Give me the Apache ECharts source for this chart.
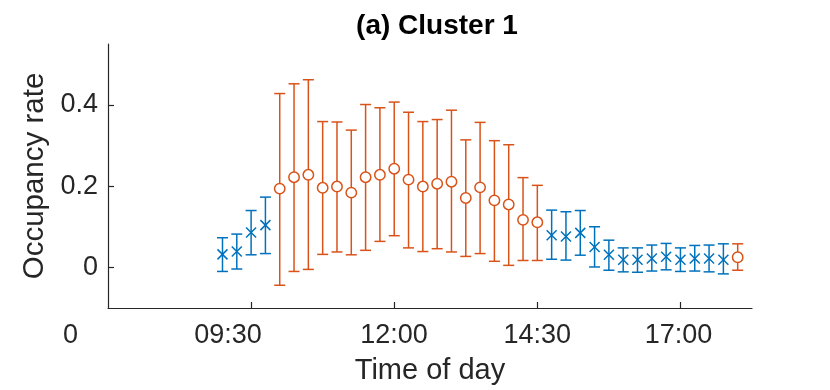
<!DOCTYPE html>
<html>
<head>
<meta charset="utf-8">
<title>(a) Cluster 1</title>
<script src="https://cdn.jsdelivr.net/npm/echarts@6/dist/echarts.min.js"></script>
<style>
    html, body { margin: 0; padding: 0; background: #fff; }
    #chart { width: 830px; height: 390px; }
</style>
</head>
<body>
<div id="chart"></div>
<script>
// 15-minute slots
var timeSlots = ['09:00', '09:15', '09:30', '09:45', '10:00', '10:15', '10:30', '10:45',
    '11:00', '11:15', '11:30', '11:45', '12:00', '12:15', '12:30', '12:45',
    '13:00', '13:15', '13:30', '13:45', '14:00', '14:15', '14:30', '14:45',
    '15:00', '15:15', '15:30', '15:45', '16:00', '16:15', '16:30', '16:45',
    '17:00', '17:15', '17:30', '17:45', '18:00'];

// 1 = slot belongs to the cluster (orange circles), 0 = outside (blue crosses)
var inCluster = [0, 0, 0, 0, 1, 1, 1, 1, 1, 1, 1, 1, 1, 1, 1, 1, 1, 1, 1, 1, 1, 1, 1,
    0, 0, 0, 0, 0, 0, 0, 0, 0, 0, 0, 0, 0, 1];

var meanRate = [0.032, 0.039, 0.086, 0.104, 0.194, 0.222, 0.228, 0.196, 0.199, 0.184,
    0.222, 0.228, 0.243, 0.216, 0.199, 0.206, 0.211, 0.171, 0.197, 0.165, 0.155, 0.117,
    0.111, 0.079, 0.076, 0.085, 0.050, 0.031, 0.019, 0.019, 0.022, 0.026, 0.019, 0.022,
    0.022, 0.019, 0.025];

var upperRate = [0.073, 0.082, 0.140, 0.173, 0.428, 0.452, 0.462, 0.359, 0.358, 0.338,
    0.401, 0.393, 0.407, 0.382, 0.359, 0.364, 0.387, 0.314, 0.357, 0.312, 0.302, 0.221,
    0.202, 0.141, 0.137, 0.140, 0.100, 0.067, 0.048, 0.048, 0.055, 0.059, 0.048, 0.054,
    0.055, 0.058, 0.058];

var lowerRate = [-0.010, -0.004, 0.031, 0.034, -0.044, -0.010, -0.005, 0.032, 0.038, 0.031,
    0.042, 0.064, 0.078, 0.048, 0.039, 0.046, 0.038, 0.027, 0.034, 0.015, 0.005, 0.017,
    0.017, 0.020, 0.018, 0.030, 0.001, -0.007, -0.011, -0.012, -0.009, -0.006, -0.010,
    -0.009, -0.011, -0.016, -0.007];

// axis ticks / labels
var xTicks = ['09:30', '12:00', '14:30', '17:00'];
var xTickLabels = ['0', '09:30', '12:00', '14:30', '17:00'];
var yTicks = [0, 0.2, 0.4];

(function () {
    var blue = '#0072BD';
    var orange = '#D95319';
    var axisColor = '#262626';
    var font = '"Liberation Sans", Arial, Helvetica, sans-serif';

    function toMin(s) {
        var p = s.split(':');
        return (+p[0]) * 60 + (+p[1]);
    }

    // where the tick labels sit (minutes on the label axis)
    var labelAt = [381, 546, 720, 870, 1018];
    var labelText = {};
    labelAt.forEach(function (v, i) { labelText[v] = xTickLabels[i]; });

    var blueData = [], orangeData = [];
    timeSlots.forEach(function (t, i) {
        var row = [toMin(t), meanRate[i], lowerRate[i], upperRate[i]];
        if (inCluster[i]) orangeData.push(row); else blueData.push(row);
    });

    // vertical bar + caps + marker
    function errorBar(color, marker) {
        return function (params, api) {
            var x = api.value(0);
            var c = api.coord([x, api.value(1)]);
            var lo = api.coord([x, api.value(2)]);
            var hi = api.coord([x, api.value(3)]);
            var cap = 5.5;
            var st = { stroke: color, lineWidth: 1.5, fill: null };
            var kids = [
                { type: 'line', shape: { x1: lo[0], y1: lo[1], x2: hi[0], y2: hi[1] }, style: st },
                { type: 'line', shape: { x1: lo[0] - cap, y1: lo[1], x2: lo[0] + cap, y2: lo[1] }, style: st },
                { type: 'line', shape: { x1: hi[0] - cap, y1: hi[1], x2: hi[0] + cap, y2: hi[1] }, style: st }
            ];
            if (marker === 'circle') {
                kids.push({ type: 'circle', shape: { cx: c[0], cy: c[1], r: 5.2 },
                    style: { stroke: color, lineWidth: 1.5, fill: '#fff' } });
            } else {
                var s = 5;
                kids.push({ type: 'line', shape: { x1: c[0] - s, y1: c[1] - s, x2: c[0] + s, y2: c[1] + s }, style: st });
                kids.push({ type: 'line', shape: { x1: c[0] - s, y1: c[1] + s, x2: c[0] + s, y2: c[1] - s }, style: st });
            }
            return { type: 'group', children: kids };
        };
    }

    var myChart = echarts.init(document.getElementById('chart'));
    var option = {
        animation: false,
        backgroundColor: '#fff',
        title: {
            text: '(a) Cluster 1',
            left: 432,
            top: 7,
            textAlign: 'center',
            textStyle: { fontFamily: font, fontSize: 28, fontWeight: 'bold', color: '#000' }
        },
        grid: [
            { left: 108, right: 78, top: 44, bottom: 82 },
            { left: 60, right: 78, top: 44, bottom: 82 }
        ],
        xAxis: [
            {
                type: 'value',
                gridIndex: 0,
                min: 420,
                max: 1095,
                splitLine: { show: false },
                axisLine: { show: true, onZero: false, lineStyle: { color: axisColor, width: 1.2 } },
                axisTick: {
                    show: true, inside: true, length: 6,
                    customValues: xTicks.map(toMin),
                    lineStyle: { color: axisColor, width: 1.2 }
                },
                axisLabel: { show: false },
                name: 'Time of day',
                nameLocation: 'middle',
                nameGap: 48,
                nameTextStyle: { fontFamily: font, fontSize: 29, color: axisColor }
            },
            {
                type: 'value',
                gridIndex: 1,
                min: 370,
                max: 1095,
                splitLine: { show: false },
                axisLine: { show: false, onZero: false },
                axisTick: { show: false },
                axisLabel: {
                    customValues: labelAt,
                    margin: 14,
                    fontFamily: font,
                    fontSize: 27,
                    color: axisColor,
                    formatter: function (v) { return labelText[v] || ''; }
                }
            }
        ],
        yAxis: [
            {
                type: 'value',
                gridIndex: 0,
                min: -0.1,
                max: 0.55,
                splitLine: { show: false },
                axisLine: { show: true, onZero: false, lineStyle: { color: axisColor, width: 1.2 } },
                axisTick: {
                    show: true, inside: true, length: 6,
                    customValues: yTicks,
                    lineStyle: { color: axisColor, width: 1.2 }
                },
                axisLabel: {
                    customValues: yTicks,
                    margin: 10,
                    fontFamily: font,
                    fontSize: 27,
                    color: axisColor,
                    formatter: function (v) { return String(+v.toFixed(1)); }
                },
                name: 'Occupancy rate',
                nameLocation: 'middle',
                nameGap: 50,
                nameRotate: 90,
                nameTextStyle: { fontFamily: font, fontSize: 29.5, color: axisColor }
            },
            {
                type: 'value',
                gridIndex: 1,
                show: false,
                min: -0.1,
                max: 0.55
            }
        ],
        series: [
            {
                name: 'outside',
                type: 'custom',
                xAxisIndex: 0,
                yAxisIndex: 0,
                renderItem: errorBar(blue, 'x'),
                encode: { x: 0, y: [1, 2, 3] },
                data: blueData,
                clip: false
            },
            {
                name: 'cluster',
                type: 'custom',
                xAxisIndex: 0,
                yAxisIndex: 0,
                renderItem: errorBar(orange, 'circle'),
                encode: { x: 0, y: [1, 2, 3] },
                data: orangeData,
                clip: false
            }
        ]
    };
    myChart.setOption(option);
    window.addEventListener('resize', function () { myChart.resize(); });
})();
</script>
</body>
</html>
